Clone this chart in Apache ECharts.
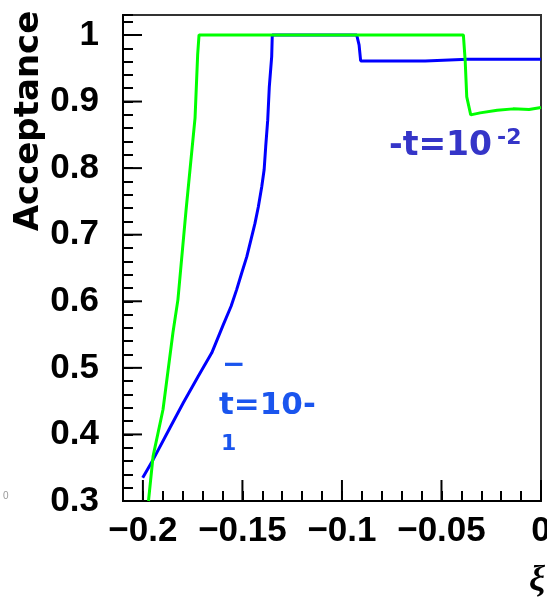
<!DOCTYPE html>
<html>
<head>
<meta charset="utf-8">
<script src="https://cdn.jsdelivr.net/npm/echarts@6/dist/echarts.min.js"></script>
<style>
  html, body { margin: 0; padding: 0; background: #fff; }
  #chart { width: 547px; height: 600px; }
</style>
</head>
<body>
<div id="chart"></div>
<script>
// tick values (labelled ticks)
const xTicks = [-0.2, -0.15, -0.1, -0.05, 0];
const yTicks = [0.3, 0.4, 0.5, 0.6, 0.7, 0.8, 0.9, 1];

// -t = 10^-1 (blue) : [xi, acceptance]
const blueCurve = [
  [-0.2001, 0.335], [-0.1948, 0.3625], [-0.1864, 0.41], [-0.1797, 0.4475],
  [-0.1722, 0.4875], [-0.1654, 0.5225], [-0.1596, 0.565], [-0.1557, 0.5925],
  [-0.1529, 0.6175], [-0.1504, 0.642], [-0.1478, 0.667], [-0.1457, 0.6925],
  [-0.1437, 0.717], [-0.1420, 0.742], [-0.1403, 0.772], [-0.1391, 0.7975],
  [-0.1383, 0.8325], [-0.1373, 0.872], [-0.1365, 0.922], [-0.1353, 0.9675],
  [-0.1350, 1.0], [-0.0926, 1.0], [-0.0914, 0.985], [-0.0906, 0.961],
  [-0.0582, 0.961], [-0.0580, 0.9635], [-0.0370, 0.9635], [-0.0368, 0.961],
  [-0.0364, 0.9635], [0, 0.9635]
];

// -t = 10^-2 (green)
const greenCurve = [
  [-0.1972, 0.30], [-0.1949, 0.367], [-0.1899, 0.4375], [-0.1849, 0.553],
  [-0.1824, 0.6025], [-0.1783, 0.7375], [-0.1738, 0.8755], [-0.1725, 0.97],
  [-0.1718, 1.0], [-0.0390, 1.0], [-0.0381, 0.962], [-0.0373, 0.907],
  [-0.0353, 0.88], [-0.0306, 0.883], [-0.022, 0.887], [-0.014, 0.889],
  [-0.006, 0.888], [0, 0.891]
];

const xMin = -0.21, xMax = 0, yMin = 0.3, yMax = 1.03;
const labelFont = 'Liberation Sans, Arial, sans-serif';
const annFont = 'DejaVu Sans, sans-serif';

const isTick = (list, v) => list.some(t => Math.abs(t - v) < 1e-6);

// major tick marks, drawn from the tick arrays through the axes
function majorTicks (params, api) {
    const kind = api.value(2);
    const p = api.coord([api.value(0), api.value(1)]);
    const end = kind === 0 ? [p[0], p[1] - 21] : [p[0] + 19, p[1]];
    return {
        type: 'line',
        shape: { x1: p[0], y1: p[1], x2: end[0], y2: end[1] },
        style: { stroke: '#000', lineWidth: 2 }
    };
}

const myChart = echarts.init(document.getElementById('chart'));

const option = {
  animation: false,
  grid: {
    left: 123, top: 15, width: 418, height: 486,
    outerBoundsMode: 'none', containLabel: false,
    show: true, borderColor: '#333', borderWidth: 2, backgroundColor: 'transparent'
  },
  xAxis: {
    // minor ticks every 0.01, labels on the major ones
    type: 'value', min: xMin, max: xMax, interval: 0.01, position: 'bottom',
    axisLine: { show: true, onZero: false, lineStyle: { color: '#000', width: 2 } },
    axisTick: { show: true, inside: true, length: 10, lineStyle: { color: '#000', width: 2 } },
    axisLabel: {
      margin: 13, color: '#000', hideOverlap: false,
      fontSize: 35, fontWeight: 'bold', fontFamily: labelFont,
      formatter: v => isTick(xTicks, v) ? String(+v.toFixed(2)).replace('-', '\u2212') : ''
    },
    splitLine: { show: false }
  },
  yAxis: {
    type: 'value', min: yMin, max: yMax, interval: 0.02, position: 'left',
    axisLine: { show: true, onZero: false, lineStyle: { color: '#000', width: 2 } },
    axisTick: { show: true, inside: true, length: 10, lineStyle: { color: '#000', width: 2 } },
    axisLabel: {
      margin: 24, color: '#000', hideOverlap: false,
      fontSize: 35, fontWeight: 'bold', fontFamily: labelFont,
      formatter: v => isTick(yTicks, v) ? String(+v.toFixed(2)) : ''
    },
    splitLine: { show: false }
  },
  series: [
    {
      name: '-t=10^-1', type: 'line', data: blueCurve, showSymbol: false,
      lineStyle: { color: '#0000ff', width: 3 }
    },
    {
      name: '-t=10^-2', type: 'line', data: greenCurve, showSymbol: false,
      lineStyle: { color: '#00ff00', width: 3 }
    },
    {
      type: 'custom', silent: true, clip: false, z: 1,
      renderItem: majorTicks,
      data: [
        ...xTicks.map(v => [v, yMin, 0]),
        ...yTicks.map(v => [xMin, v, 1])
      ]
    }
  ],
  graphic: [
    {
      type: 'text', x: 29, y: 121, rotation: Math.PI / 2,
      style: { text: 'Acceptance', font: 'bold 34px DejaVu Sans, sans-serif', fill: '#000', align: 'center', verticalAlign: 'middle' }
    },
    {
      type: 'text', x: 537, y: 581,
      style: { text: 'ξ', font: 'italic bold 36px Liberation Serif, serif', fill: '#000', align: 'center', verticalAlign: 'middle' }
    },
    {
      type: 'text', x: 3, y: 496,
      style: { text: '0', font: '10px ' + labelFont, fill: '#999', align: 'left', verticalAlign: 'middle' }
    },
    {
      type: 'text', x: 389, y: 146,
      style: { text: '-t=10', font: 'bold 33px ' + annFont, fill: '#3535c8', align: 'left', verticalAlign: 'middle' }
    },
    {
      type: 'text', x: 497, y: 138,
      style: { text: '-2', font: 'bold 22px ' + annFont, fill: '#3535c8', align: 'left', verticalAlign: 'middle' }
    },
    {
      type: 'text', x: 222, y: 366,
      style: { text: '\u2212', font: 'bold 28px ' + annFont, fill: '#1a55ee', align: 'left', verticalAlign: 'middle' }
    },
    {
      type: 'text', x: 219, y: 406,
      style: { text: 't=10-', font: 'bold 31px ' + annFont, fill: '#1a55ee', align: 'left', verticalAlign: 'middle' }
    },
    {
      type: 'text', x: 221, y: 444,
      style: { text: '1', font: 'bold 22px ' + annFont, fill: '#1a55ee', align: 'left', verticalAlign: 'middle' }
    }
  ]
};

myChart.setOption(option);
</script>
</body>
</html>
